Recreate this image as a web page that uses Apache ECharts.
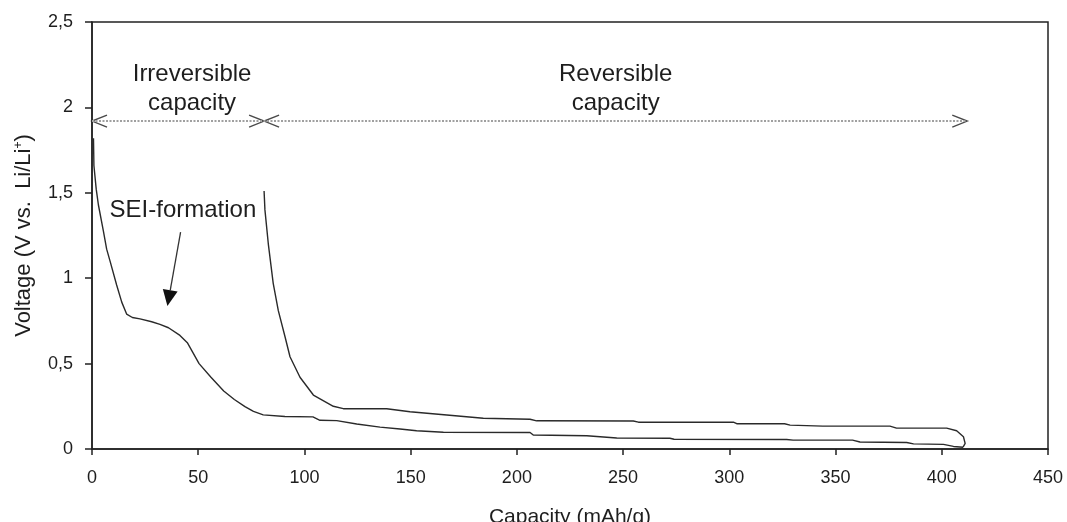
<!DOCTYPE html>
<html lang="en">
<head>
    <meta charset="UTF-8">
    <title>Voltage vs. capacity</title>
    <script src="https://cdn.jsdelivr.net/npm/echarts@6/dist/echarts.min.js"></script>
    <style>
        html, body { margin: 0; padding: 0; background: #fff; }
        #chart { width: 1067px; height: 522px; }
    </style>
</head>
<body>
    <div id="chart"></div>

    <script>
        // first lithiation (discharge), capacity in mAh/g and voltage in V
        var dischargeCap = [0.7, 0.9, 2.0, 3.0, 5.3, 6.9, 8.5, 11.6, 14, 16.3, 19, 22.6, 28.1, 32, 36, 41.4, 45, 50.4, 56, 62,
            67, 72, 76, 80.6, 90.8, 104, 107.3, 115.2, 124.6, 135.6, 145, 152.8, 165.4, 206.2, 207.7, 232.9, 247, 272, 274,
            327, 330, 358, 361.5, 383.5, 386.7, 400.8, 405.5, 410];
        var dischargeV = [1.82, 1.66, 1.52, 1.43, 1.28, 1.17, 1.10, 0.96, 0.86, 0.79, 0.77, 0.762, 0.745, 0.73, 0.71, 0.665, 0.62, 0.50, 0.42, 0.34,
            0.29, 0.248, 0.22, 0.20, 0.19, 0.188, 0.168, 0.166, 0.146, 0.128, 0.117, 0.107, 0.098, 0.097, 0.082, 0.078, 0.064, 0.063, 0.057,
            0.056, 0.052, 0.052, 0.041, 0.038, 0.030, 0.027, 0.015, 0.010];

        // delithiation (charge), runs back from the end of the discharge
        var chargeCap = [410, 411, 410.2, 407, 402.3, 378.7, 375.6, 344, 328.6, 326, 303.5, 301.9, 257.2, 254.8, 209.3, 206.2,
            184.2, 167, 149.7, 138.7, 118.3, 113.6, 104.2, 97.9, 93.2, 90.8, 87.7, 85.3, 83, 81.4, 81];
        var chargeV = [0.010, 0.033, 0.072, 0.107, 0.122, 0.122, 0.134, 0.134, 0.14, 0.148, 0.148, 0.157, 0.157, 0.164, 0.165, 0.174,
            0.18, 0.199, 0.218, 0.236, 0.236, 0.25, 0.316, 0.42, 0.54, 0.66, 0.81, 0.97, 1.20, 1.40, 1.51];

        var xTickLabels = ['0', '50', '100', '150', '200', '250', '300', '350', '400', '450'];
        var yTickLabels = ['0', '0,5', '1', '1,5', '2', '2,5'];

        // capacity bracket: left end, border between irreversible / reversible, right end
        var bracketCaps = [0, 81, 412];
        var bracketV = 1.92;

        var fontFamily = "'Liberation Sans', Arial, sans-serif";
        var textColor = '#1e1e1e';
        var lineColor = '#2a2a2a';

        function pairs(xs, ys) {
            return xs.map(function (x, i) { return [x, ys[i]]; });
        }

        var chart = echarts.init(document.getElementById('chart'));

        var option = {
            animation: false,
            backgroundColor: '#fff',
            grid: {
                left: 92, right: 19, top: 22, bottom: 73,
                outerBoundsMode: 'none',
                containLabel: false,
                show: true,
                borderColor: '#222',
                borderWidth: 1.5
            },
            xAxis: {
                type: 'value',
                min: 0, max: 450, interval: 50,
                name: 'Capacity (mAh/g)',
                nameLocation: 'middle',
                nameGap: 58,
                nameTextStyle: { fontFamily: fontFamily, fontSize: 21, color: textColor },
                axisLine: { lineStyle: { color: '#222', width: 1.5 } },
                axisTick: { length: 6, lineStyle: { color: '#222', width: 1.5 } },
                axisLabel: {
                    margin: 20,
                    fontFamily: fontFamily, fontSize: 18, color: textColor,
                    formatter: function (v) { return xTickLabels[Math.round(v / 50)]; }
                },
                splitLine: { show: false }
            },
            yAxis: {
                type: 'value',
                min: 0, max: 2.5, interval: 0.5,
                name: 'Voltage (V vs.  Li/Li{sup|+})',
                nameLocation: 'middle',
                nameGap: 57,
                nameTextStyle: {
                    fontFamily: fontFamily, fontSize: 22, color: textColor,
                    rich: {
                        sup: { fontFamily: fontFamily, fontSize: 12, color: textColor, verticalAlign: 'top', padding: [0, 0, 10, 0] }
                    }
                },
                axisLine: { lineStyle: { color: '#222', width: 1.5 } },
                axisTick: { length: 7, lineStyle: { color: '#222', width: 1.5 } },
                axisLabel: {
                    margin: 19,
                    fontFamily: fontFamily, fontSize: 18, color: textColor,
                    formatter: function (v) { return yTickLabels[Math.round(v / 0.5)]; }
                },
                splitLine: { show: false }
            },
            series: [
                {
                    name: 'Discharge',
                    type: 'line',
                    data: pairs(dischargeCap, dischargeV),
                    showSymbol: false,
                    symbol: 'none',
                    lineStyle: { color: lineColor, width: 1.4 },
                    silent: true
                },
                {
                    name: 'Charge',
                    type: 'line',
                    data: pairs(chargeCap, chargeV),
                    showSymbol: false,
                    symbol: 'none',
                    lineStyle: { color: lineColor, width: 1.4 },
                    silent: true
                },
                {
                    name: 'Bracket',
                    type: 'line',
                    data: [[bracketCaps[0], bracketV], [bracketCaps[2], bracketV]],
                    showSymbol: false,
                    symbol: 'none',
                    lineStyle: { color: '#a0a0a0', width: 2, type: [2, 1.5] },
                    silent: true
                }
            ]
        };

        chart.setOption(option);

        // annotations, placed through the grid's own scales
        function px(c, v) {
            return chart.convertToPixel({ gridIndex: 0 }, [c, v]);
        }

        function chevron(c, dir) {
            var p = px(c, bracketV);
            return {
                type: 'polyline',
                shape: { points: [[p[0] - dir * 15, p[1] - 6], [p[0], p[1]], [p[0] - dir * 15, p[1] + 6]] },
                style: { stroke: '#4a4a4a', lineWidth: 1.4, fill: null },
                silent: true
            };
        }

        function label(text, c, v, size, lh) {
            var p = px(c, v);
            return {
                type: 'text',
                x: p[0], y: p[1],
                style: {
                    text: text,
                    fontFamily: fontFamily, fontSize: size, lineHeight: lh,
                    fill: textColor, align: 'center', verticalAlign: 'middle'
                },
                silent: true
            };
        }

        // arrow pointing at the SEI plateau
        var arrowFrom = px(41.7, 1.27);
        var arrowTip = px(35.5, 0.837);
        var dx = arrowTip[0] - arrowFrom[0], dy = arrowTip[1] - arrowFrom[1];
        var len = Math.sqrt(dx * dx + dy * dy);
        var ux = dx / len, uy = dy / len;
        var base = [arrowTip[0] - ux * 16, arrowTip[1] - uy * 16];

        chart.setOption({
            graphic: [
                chevron(bracketCaps[0], -1),
                chevron(bracketCaps[1], 1),
                chevron(bracketCaps[1], -1),
                chevron(bracketCaps[2], 1),
                label('Irreversible\ncapacity', 47.1, 2.11, 24, 29),
                label('Reversible\ncapacity', 246.5, 2.11, 24, 29),
                label('SEI-formation', 42.8, 1.40, 24, 28),
                {
                    type: 'line',
                    shape: { x1: arrowFrom[0], y1: arrowFrom[1], x2: base[0], y2: base[1] },
                    style: { stroke: '#333', lineWidth: 1.3 },
                    silent: true
                },
                {
                    type: 'polygon',
                    shape: {
                        points: [
                            arrowTip,
                            [base[0] - uy * 7.5, base[1] + ux * 7.5],
                            [base[0] + uy * 7.5, base[1] - ux * 7.5]
                        ]
                    },
                    style: { fill: '#111' },
                    silent: true
                }
            ]
        });
    </script>
</body>
</html>
